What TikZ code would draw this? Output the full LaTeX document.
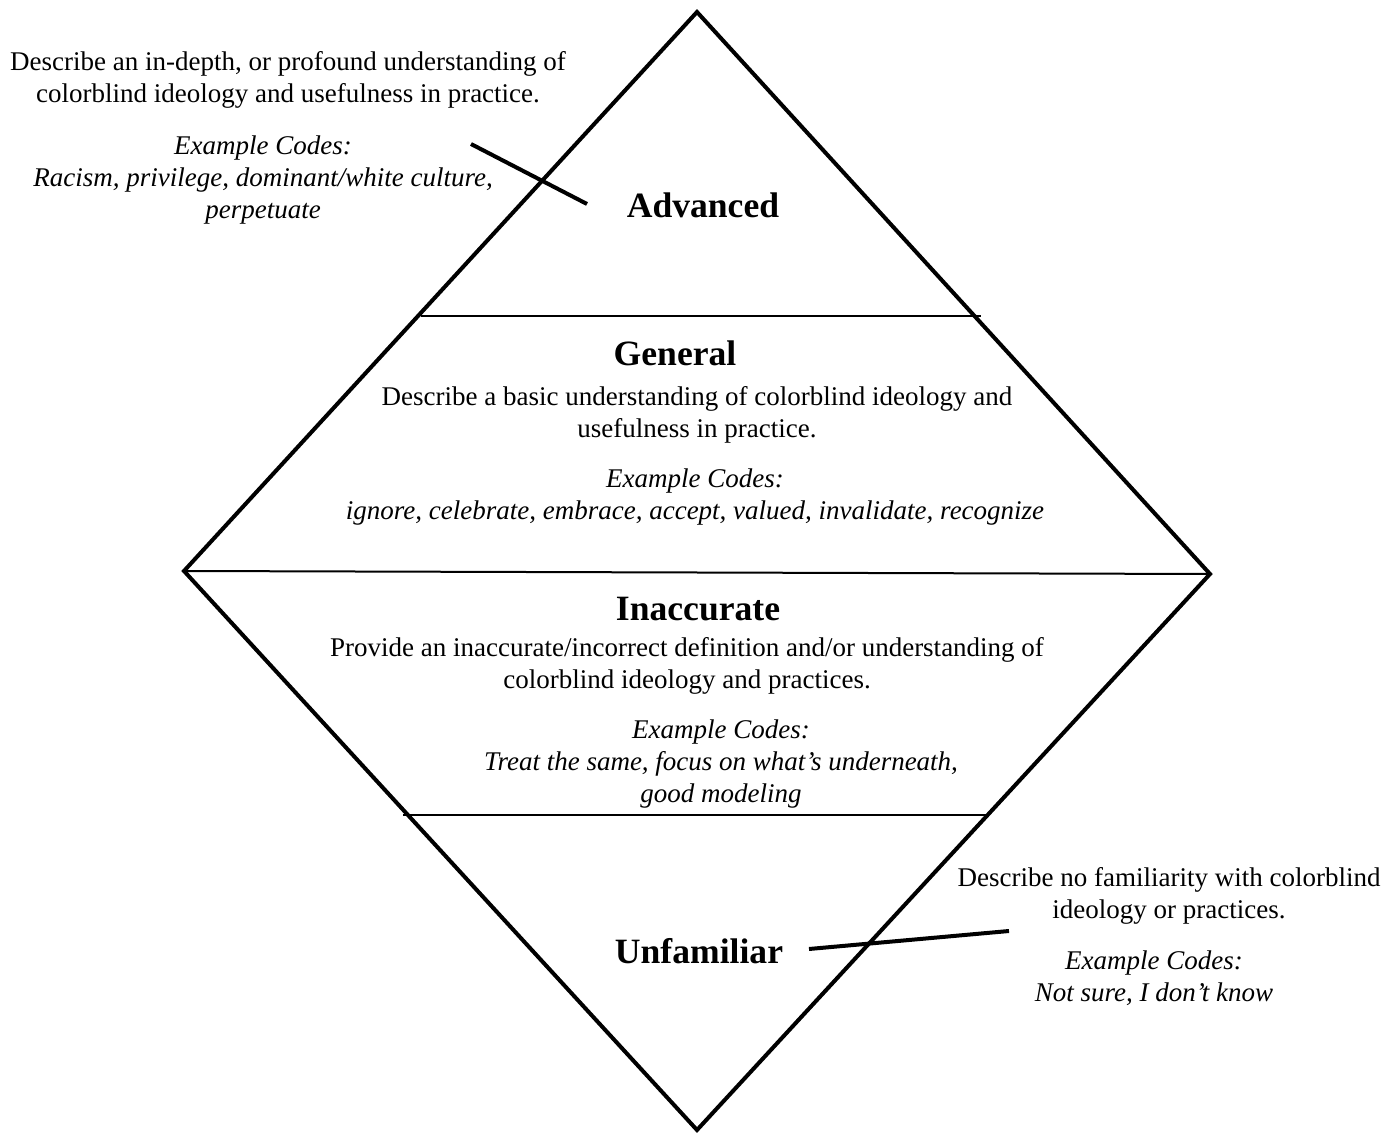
\documentclass[tikz,border=0pt]{standalone}
\usepackage{fontspec}
\setmainfont{Liberation Serif}
\begin{document}
\begin{tikzpicture}[x=0.5pt,y=-0.5pt,
  body/.style={inner sep=0pt,align=center,font=\fontsize{13.5pt}{16pt}\selectfont},
  ital/.style={body,font=\fontsize{13.5pt}{16pt}\selectfont\itshape},
  level/.style={inner sep=0pt,font=\fontsize{17.8pt}{20pt}\selectfont\bfseries},
  outline/.style={line width=2pt,line join=miter},
  divider/.style={line width=1pt},
  pointer/.style={line width=2pt}]
\useasboundingbox (0,0) rectangle (1397,1133);
% diamond
\coordinate (T) at (697,12);
\coordinate (L) at (184,571);
\coordinate (R) at (1210,574);
\coordinate (B) at (697,1130);
\draw[outline] (T) -- (R) -- (B) -- (L) -- cycle;
% dividers
\coordinate (d1a) at (421,316); \coordinate (d1b) at (981,316);
\coordinate (d3a) at (403,815); \coordinate (d3b) at (988,815);
\draw[divider] (d1a) -- (d1b);
\draw[divider] (L) -- (R);
\draw[divider] (d3a) -- (d3b);
% texts
\node[body] (a1) at (288,80) {Describe an in-depth, or profound understanding of\\colorblind ideology and usefulness in practice.};
\node[ital] (a2) at (263,180) {Example Codes:\\Racism, privilege, dominant/white culture,\\perpetuate};
\node[level] (adv) at (703,205) {Advanced};
\node[level] (gen) at (675,353) {General};
\node[body] (g1) at (697,415) {Describe a basic understanding of colorblind ideology and\\usefulness in practice.};
\node[ital] (g2) at (695,497) {Example Codes:\\ignore, celebrate, embrace, accept, valued, invalidate, recognize};
\node[level] (ina) at (698,609) {Inaccurate};
\node[body] (i1) at (687,666) {Provide an inaccurate/incorrect definition and/or understanding of\\colorblind ideology and practices.};
\node[ital] (i2) at (721,764) {Example Codes:\\Treat the same, focus on what’s underneath,\\good modeling};
\node[level] (unf) at (699,951) {Unfamiliar};
\node[body] (u1) at (1169,896) {Describe no familiarity with colorblind\\ideology or practices.};
\node[ital] (u2) at (1154,978) {Example Codes:\\Not sure, I don’t know};
% pointers
\coordinate (p1a) at (471,144); \coordinate (p1b) at (587,204);
\coordinate (p2a) at (809,949); \coordinate (p2b) at (1009,931);
\draw[pointer] (p1a) -- (p1b);
\draw[pointer] (p2a) -- (p2b);
\end{tikzpicture}
\end{document}
